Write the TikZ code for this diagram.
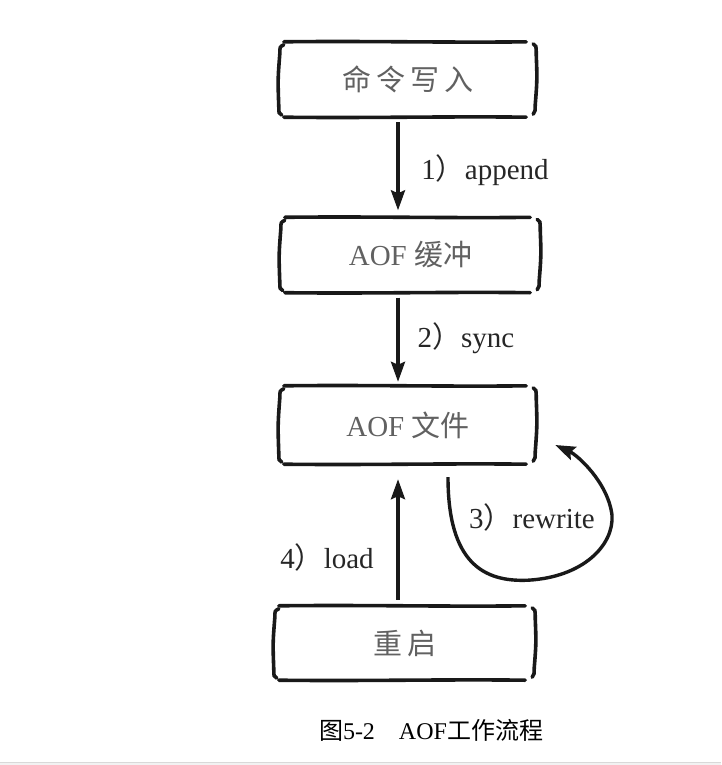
\documentclass[tikz,border=0pt]{standalone}
\usepackage{fontspec}
\setmainfont{Liberation Serif}
\newfontfamily\cjk{Noto Sans CJK SC}
\usetikzlibrary{calc,arrows.meta}
\begin{document}
\begin{tikzpicture}[x=1pt,y=-1pt,
  boxnode/.style={minimum width=256pt,minimum height=75pt,inner sep=0pt,draw=none,
    font=\fontsize{29}{32}\selectfont,text=black!62},
  hand/.style={line width=3.6pt,line cap=round,black!90},
  flow/.style={line width=3.4pt,black!90,-{Stealth[length=20pt,width=14pt,inset=3pt]}},
  lbl/.style={font=\fontsize{29}{32}\selectfont,text=black!85,inner sep=0pt},
  captext/.style={font=\fontsize{24}{26}\selectfont,text=black,inner sep=0pt}]
\useasboundingbox (0,0) rectangle (721,765);
\fill[black!5] (0,762) rectangle (721,765);
\draw[black!15,line width=0.8pt] (0,762) -- (721,762);

\newcommand{\handbox}[1]{%
  \draw[hand] ($(#1.north west)+(4,0)$) .. controls ($(#1.north)+(-40,-1)$) and ($(#1.north)+(40,1)$) .. ($(#1.north east)+(-10,0)$);
  \draw[hand] ($(#1.south west)+(4,0)$) .. controls ($(#1.south)+(-40,1)$) and ($(#1.south)+(40,-1)$) .. ($(#1.south east)+(-10,0)$);
  \draw[hand] ($(#1.north west)+(4,3)$) .. controls ($(#1.north west)+(0,5)$) .. ($(#1.north west)+(0,12)$)
     .. controls ($(#1.west)+(-2,0)$) .. ($(#1.south west)+(-1,-10)$)
     .. controls ($(#1.south west)+(-1,-4)$) .. ($(#1.south west)+(2,-2)$);
  \draw[hand] ($(#1.north east)+(-3,2)$) .. controls ($(#1.north east)+(0,4)$) .. ($(#1.north east)+(0,12)$)
     .. controls ($(#1.east)+(1,0)$) .. ($(#1.south east)+(-1,-12)$)
     .. controls ($(#1.south east)+(-1,-6)$) .. ($(#1.south east)+(-3,-3)$);
}

\node[boxnode] (b1) at (408,79.5) {\cjk 命\,令\,写\,入};
\node[boxnode,minimum width=259pt] (b2) at (410.5,255) {AOF {\cjk 缓冲}};
\node[boxnode,minimum height=78pt] (b3) at (408,425) {AOF {\cjk 文件}};
\node[boxnode,minimum width=260pt,minimum height=74pt] (b4) at (405,643) {\cjk 重\,启};

\handbox{b1}
\handbox{b2}
\handbox{b3}
\handbox{b4}

\draw[flow,shorten <=5pt,shorten >=7pt] ([xshift=-10pt]b1.south) -- ([xshift=-12.5pt]b2.north);
\draw[flow,shorten <=5pt,shorten >=4pt] ([xshift=-12.5pt]b2.south) -- ([xshift=-10pt]b3.north);
\draw[flow,shorten <=6pt,shorten >=15pt] ([xshift=-7pt]b4.north) -- ([xshift=-10pt]b3.south);

\coordinate (rs) at ($(b3.south)+(40,13)$);
\coordinate (re) at ($(b3.east)+(19,20)$);
\draw[flow] (rs) .. controls ($(rs)+(0,85)$) and ($(rs)+(35,105)$) .. ($(rs)+(80,103)$)
  .. controls ($(rs)+(135,100)$) and ($(rs)+(166,68)$) .. ($(rs)+(164,38)$)
  .. controls ($(rs)+(160,5)$) and ($(re)+(22,10)$) .. (re);

\node[lbl] (l1) at (485,170) {1{\cjk ）}append};
\node[lbl] (l2) at (466,338) {2{\cjk ）}sync};
\node[lbl] (l3) at (532,517) {3{\cjk ）}rewrite};
\node[lbl] (l4) at (327,557) {4{\cjk ）}load};

\node[captext] (c) at (431,730) {{\cjk 图}5-2\hspace{24pt}AOF{\cjk 工作流程}};
\end{tikzpicture}
\end{document}
